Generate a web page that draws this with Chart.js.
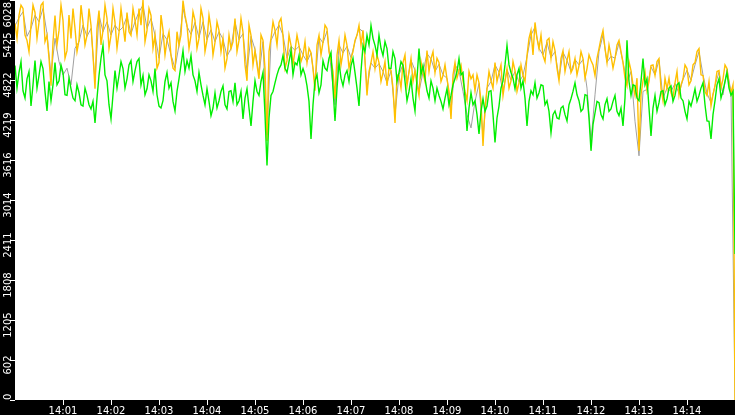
<!DOCTYPE html>
<html>
<head>
<meta charset="utf-8">
<script src="https://cdn.jsdelivr.net/npm/chart.js@4.4.0/dist/chart.umd.min.js"></script>
<style>
  html, body { margin: 0; padding: 0; background: #000; }
  canvas { display: block; }
</style>
</head>
<body>
<canvas id="chartLoad" width="735" height="415"></canvas>
<script>
// --- data (14:00 to 14:15) ---
const fastStepSec = 2.5;  // yellow and green: one value every 2.5 s
const greyStepSec = 5;    // grey: one value every 5 s

const yellowVals = [
    5675, 5450, 5795, 5950, 5900, 5500, 5420, 5250, 5645, 5950,
    5840, 5450, 5690, 5950, 5990, 5400, 5495, 5150, 4735, 5400,
    5795, 5350, 5570, 5950, 5720, 5150, 5265, 5800, 5450, 5900,
    5600, 5250, 5420, 5950, 5690, 5350, 5495, 5900, 5645, 5200,
    4690, 5600, 5870, 5350, 5570, 5950, 5750, 5300, 5495, 5900,
    5690, 5300, 5540, 5900, 5645, 5400, 5840, 5550, 5495, 5900,
    5720, 5500, 5900, 5650, 6028, 5400, 5570, 5900, 5795, 5300,
    5495, 5000, 5085, 5800, 5570, 5200, 5420, 5550, 5190, 5000,
    4965, 5550, 5345, 5500, 6020, 5800, 5645, 5300, 5495, 5850,
    5720, 5300, 5450, 5900, 5750, 5250, 5420, 5800, 5600, 5200,
    5390, 5700, 5570, 5250, 5450, 5000, 5145, 5500, 5295, 5400,
    5750, 5250, 5420, 5750, 5540, 5050, 4810, 5650, 5495, 5050,
    5265, 5050, 4840, 5500, 5420, 5000, 3905, 5250, 5450, 5700,
    5570, 5350, 5690, 5750, 5495, 5000, 5115, 5500, 5345, 5050,
    5265, 5500, 5345, 5100, 5190, 5400, 5085, 5300, 5235, 5000,
    4660, 5350, 5495, 5200, 5390, 5650, 5600, 5250, 5115, 4950,
    4540, 5200, 5420, 5050, 5235, 5500, 5345, 5000, 5145, 5250,
    5420, 5500, 5645, 5350, 5570, 5100, 4590, 4950, 5085, 5250,
    4995, 5200, 5085, 4800, 4935, 5100, 4735, 5000, 4965, 4700,
    4175, 4900, 4890, 4700, 5085, 5200, 4735, 4950, 5145, 4800,
    4965, 4750, 4590, 5100, 4935, 4800, 5265, 4950, 5145, 5250,
    4935, 5150, 5085, 4800, 4890, 5050, 4840, 4650, 4235, 4900,
    5085, 4850, 4965, 5050, 4810, 4650, 4510, 4950, 4840, 4900,
    4660, 4900, 4780, 4500, 3830, 4400, 4690, 4950, 4810, 4700,
    5085, 4800, 4935, 5050, 4590, 4800, 4995, 4700, 4810, 5100,
    4965, 4650, 4780, 5050, 4890, 4800, 5190, 5450, 5570, 5200,
    5690, 5450, 5295, 5500, 5190, 5100, 5420, 5450, 5145, 5400,
    5265, 5000, 4810, 5150, 5265, 4950, 5115, 5250, 4935, 5000,
    5145, 4900, 5040, 5250, 5145, 4850, 4995, 5200, 5115, 5050,
    4890, 5150, 5295, 5450, 5570, 5300, 5085, 5350, 5190, 5000,
    5145, 5350, 5420, 5250, 5085, 4850, 4735, 5100, 4965, 4750,
    4590, 4850, 3755, 4600, 4810, 4950, 4660, 4800, 5040, 5050,
    4890, 5100, 5145, 4700, 4510, 4850, 4690, 4850, 4630, 4550,
    4780, 4950, 4590, 4750, 4840, 5050, 4995, 4750, 4810, 5050,
    5085, 5250, 5295, 4900, 4890, 4650, 4590, 4800, 4430, 4600,
    4735, 4950, 4965, 4700, 4840, 5050, 4995, 4750, 4630, 4750,
    0
];

const greenVals = [
    5040, 4700, 4935, 5100, 4660, 4550, 4840, 4950, 4430, 4750,
    5115, 4700, 4890, 5100, 4995, 4650, 4355, 4800, 4510, 4750,
    5085, 4750, 4810, 5050, 4935, 4600, 4590, 4850, 4690, 4550,
    4510, 4750, 4630, 4450, 4430, 4700, 4590, 4450, 4385, 4500,
    4175, 4550, 4890, 5150, 5345, 4900, 4810, 4450, 4235, 4600,
    4965, 4700, 4890, 5100, 4995, 4700, 4840, 5050, 5115, 4800,
    4965, 5100, 5145, 4750, 4890, 4600, 4690, 4900, 4810, 4650,
    4995, 4600, 4430, 4400, 4510, 4800, 4935, 4700, 4780, 4500,
    4355, 4650, 4840, 5050, 5265, 4950, 5115, 5000, 5190, 4900,
    4810, 4650, 4935, 4750, 4590, 4450, 4690, 4500, 4285, 4400,
    4630, 4400, 4510, 4650, 4735, 4450, 4385, 4650, 4660, 4500,
    4780, 4450, 4510, 4650, 4235, 4550, 4690, 4400, 4130, 4500,
    4810, 4650, 4590, 4800, 4935, 4300, 3535, 4250, 4590, 4650,
    4780, 4900, 4995, 5050, 5190, 5000, 4935, 5100, 5265, 4900,
    5085, 5050, 5190, 4900, 4995, 4900, 4735, 4500, 3935, 4450,
    4810, 4900, 4630, 4750, 5115, 5000, 4965, 5150, 5235, 4700,
    4205, 4700, 5085, 4850, 4735, 4900, 4965, 4800, 5040, 5150,
    4935, 4700, 4430, 4950, 5345, 5250, 5495, 5350, 5645, 5450,
    5345, 5200, 5495, 5300, 5190, 5400, 5295, 5000, 4995, 5250,
    5145, 4800, 4935, 5100, 5040, 4800, 4510, 4650, 4840, 4550,
    4355, 4850, 5295, 4900, 5040, 4850, 4660, 4550, 4810, 4700,
    4510, 4700, 4590, 4500, 4385, 4550, 4690, 4450, 4590, 4750,
    4840, 4950, 5145, 4900, 4935, 4550, 4055, 4400, 4630, 4450,
    4510, 4300, 4010, 4350, 4540, 4350, 4430, 4650, 4660, 4300,
    3880, 4250, 4430, 4700, 4810, 5050, 5345, 5050, 4935, 4850,
    4690, 4900, 4995, 4700, 4810, 4550, 4130, 4500, 4660, 4600,
    4780, 4550, 4630, 4750, 4735, 4450, 4510, 4350, 4025, 4300,
    4355, 4250, 4235, 4400, 4430, 4300, 4205, 4450, 4540, 4650,
    4780, 4600, 4510, 4350, 4385, 4600, 4590, 4250, 3755, 4150,
    4325, 4500, 4480, 4300, 4235, 4450, 4540, 4350, 4385, 4500,
    4590, 4350, 4285, 4400, 4130, 4550, 5420, 4800, 4590, 4750,
    4735, 4550, 4510, 4800, 5145, 4750, 4840, 4400, 3980, 4400,
    4590, 4350, 4480, 4650, 4660, 4450, 4540, 4700, 4735, 4500,
    4590, 4750, 4780, 4550, 4510, 4350, 4235, 4500, 4430, 4550,
    4690, 4500, 4590, 4700, 4780, 4450, 4205, 4200, 3935, 4300,
    4510, 4750, 4840, 4550, 4660, 4800, 4935, 4700, 4590, 4650,
    2200
];

const greyVals = [
    5640, 5760, 5850, 5480, 5600, 5800, 5700, 5900, 5520, 4900,
    5450, 5100, 4900, 5000, 4750, 5300, 5400, 5650, 5480, 5600,
    4800, 5800, 5550, 5700, 5500, 5650, 5560, 5620, 5780, 5520,
    5700, 5850, 5950, 5600, 5750, 5500, 5150, 5520, 5430, 5200,
    5000, 5350, 5900, 5630, 5510, 5690, 5460, 5700, 5430, 5580,
    5400, 5550, 5440, 5180, 5300, 5700, 5430, 5520, 4950, 5480,
    5280, 4900, 5400, 4000, 5420, 5550, 5650, 5500, 5150, 5330,
    5270, 5330, 5200, 5100, 5230, 4750, 5470, 5380, 5560, 5000,
    4450, 5350, 5230, 5330, 5160, 5400, 5600, 5550, 4700, 5080,
    5000, 5070, 4950, 4780, 4960, 4300, 4900, 5060, 4770, 5120,
    4970, 4650, 4940, 5220, 5140, 4950, 5060, 4900, 4850, 4350,
    5050, 4960, 4650, 4300, 4100, 4500, 4770, 3950, 4700, 4800,
    5050, 4940, 4650, 4980, 4820, 4950, 4790, 4890, 5170, 5500,
    5620, 5300, 5200, 5390, 5160, 5250, 4850, 5240, 5120, 4950,
    5130, 5050, 5130, 4700, 3900, 4600, 5250, 5500, 5090, 5180,
    5150, 5380, 5090, 4780, 4950, 4200, 3680, 4650, 4680, 5020,
    4900, 5120, 4550, 4700, 4650, 4770, 4620, 4830, 4970, 4820,
    5050, 5250, 4900, 4620, 4480, 4740, 4940, 4600, 4980, 4650,
    0
];

const yTicks = [0, 602, 1205, 1808, 2411, 3014, 3616, 4219, 4822, 5425, 6028];
const xTickSecs = [60, 120, 180, 240, 300, 360, 420, 480, 540, 600, 660, 720, 780, 840];
const xTickLabels = ['14:01', '14:02', '14:03', '14:04', '14:05', '14:06', '14:07',
                     '14:08', '14:09', '14:10', '14:11', '14:12', '14:13', '14:14'];

function toPoints(vals, step) {
    return vals.map((v, i) => ({ x: i * step, y: v }));
}

// white plot area on the black page
const plotBackground = {
    id: 'plotBackground',
    beforeDraw(chart) {
        const { ctx, chartArea: a } = chart;
        ctx.save();
        ctx.fillStyle = '#ffffff';
        ctx.fillRect(a.left, a.top, a.right - a.left, a.bottom - a.top);
        ctx.restore();
    }
};

// rotated y labels, kept inside the plot height
const yLabels = {
    id: 'yLabels',
    afterDraw(chart) {
        const { ctx, chartArea: a } = chart;
        const yScale = chart.scales.y;
        ctx.save();
        ctx.font = '10px "DejaVu Sans"';
        ctx.fillStyle = '#ffffff';
        ctx.textAlign = 'center';
        ctx.textBaseline = 'alphabetic';
        yTicks.forEach(v => {
            const text = String(v);
            const w = ctx.measureText(text).width;
            let cy = yScale.getPixelForValue(v) + 5;
            cy = Math.min(Math.max(cy, a.top + w / 2 + 2), a.bottom - w / 2);
            ctx.save();
            ctx.translate(10.5, cy);
            ctx.rotate(-Math.PI / 2);
            ctx.fillText(text, 0, 0);
            ctx.restore();
        });
        ctx.restore();
    }
};

new Chart(document.getElementById('chartLoad'), {
    type: 'line',
    data: {
        datasets: [
            {
                label: 'green',
                data: toPoints(greenVals, fastStepSec),
                borderColor: '#00ee00',
                borderWidth: 1.4
            },
            {
                label: 'yellow',
                data: toPoints(yellowVals, fastStepSec),
                borderColor: '#ffc000',
                borderWidth: 1.4
            },
            {
                label: 'grey',
                data: toPoints(greyVals, greyStepSec),
                borderColor: '#a0a0a0',
                borderWidth: 1
            }
        ]
    },
    options: {
        responsive: false,
        devicePixelRatio: 1,
        animation: false,
        layout: { padding: 0 },
        elements: { point: { radius: 0 }, line: { tension: 0 } },
        plugins: { legend: { display: false }, tooltip: { enabled: false } },
        scales: {
            x: {
                type: 'linear',
                min: 0,
                max: 900,
                afterBuildTicks: s => { s.ticks = xTickSecs.map(v => ({ value: v })); },
                afterFit: s => { s.height = 15; },
                border: { display: false },
                grid: { drawOnChartArea: false, color: '#ffffff', tickLength: 5 },
                ticks: {
                    color: '#ffffff',
                    font: { family: 'DejaVu Sans', size: 10 },
                    padding: 0,
                    maxRotation: 0,
                    autoSkip: false,
                    callback: (v, i) => xTickLabels[i]
                }
            },
            y: {
                min: 0,
                max: 6028,
                afterBuildTicks: s => { s.ticks = yTicks.map(v => ({ value: v })); },
                afterFit: s => { s.width = 15; },
                border: { display: false },
                grid: { drawOnChartArea: false, color: '#ffffff', tickLength: 5 },
                ticks: { display: false }
            }
        }
    },
    plugins: [plotBackground, yLabels]
});
</script>
</body>
</html>
